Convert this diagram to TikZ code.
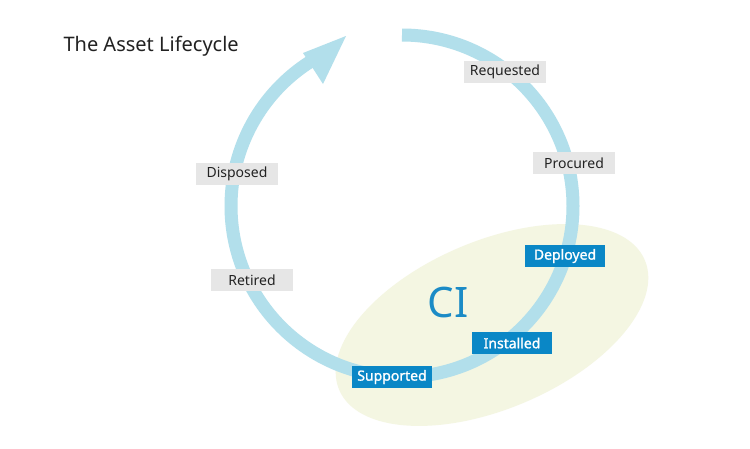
\documentclass[tikz,border=0pt]{standalone}
\usepackage{fontspec}
\setmainfont{Noto Sans}
\newfontfamily\labbold{Noto Sans}[FakeBold=1.3]
\definecolor{ring}{HTML}{B2DFEB}
\definecolor{ellfill}{HTML}{F4F6E2}
\definecolor{graybox}{HTML}{E6E6E6}
\definecolor{bluebox}{HTML}{0A87C6}
\definecolor{citext}{HTML}{1B8BC6}
\definecolor{txt}{HTML}{222222}
\tikzset{
  graylabel/.style={fill=graybox, text=txt, font=\fontsize{14}{16}\selectfont, minimum width=82pt, minimum height=22pt, inner sep=0pt},
  bluelabel/.style={fill=bluebox, text=white, font=\labbold\fontsize{14}{16}\selectfont, minimum width=80pt, minimum height=22pt, inner sep=0pt},
}
\begin{document}
\begin{tikzpicture}[x=1pt,y=-1pt]
\useasboundingbox (0,0) rectangle (750,448);
\fill[white] (0,0) rectangle (750,448);
% CI ellipse
\fill[ellfill, rotate around={23:(492,325)}] (492,325) ellipse [x radius=166, y radius=84];
% ring
\coordinate (c) at (402,206);
\draw[ring, line width=13pt] (c) ++(90:-171) arc[start angle=-90, end angle=237.6, radius=171];
\fill[ring] (346,36) -- (303,53) -- (323,84) -- cycle;
% title
\node[anchor=west, text=txt, font=\fontsize{20}{24}\selectfont] (title) at (60,46) {The Asset Lifecycle};
% labels
\node[graylabel] (req) at (505,72) {Requested};
\node[graylabel] (proc) at (574,163) {Procured};
\node[graylabel] (disp) at (237,174) {Disposed};
\node[graylabel] (ret) at (252,280) {Retired};
\node[bluelabel] (dep) at (565,256) {Deployed};
\node[bluelabel] (inst) at (512,343) {Installed};
\node[bluelabel] (supp) at (392,377) {Supported};
\node[text=citext, font=\fontsize{42}{46}\selectfont] (ci) at (448,302) {CI};
\end{tikzpicture}
\end{document}
